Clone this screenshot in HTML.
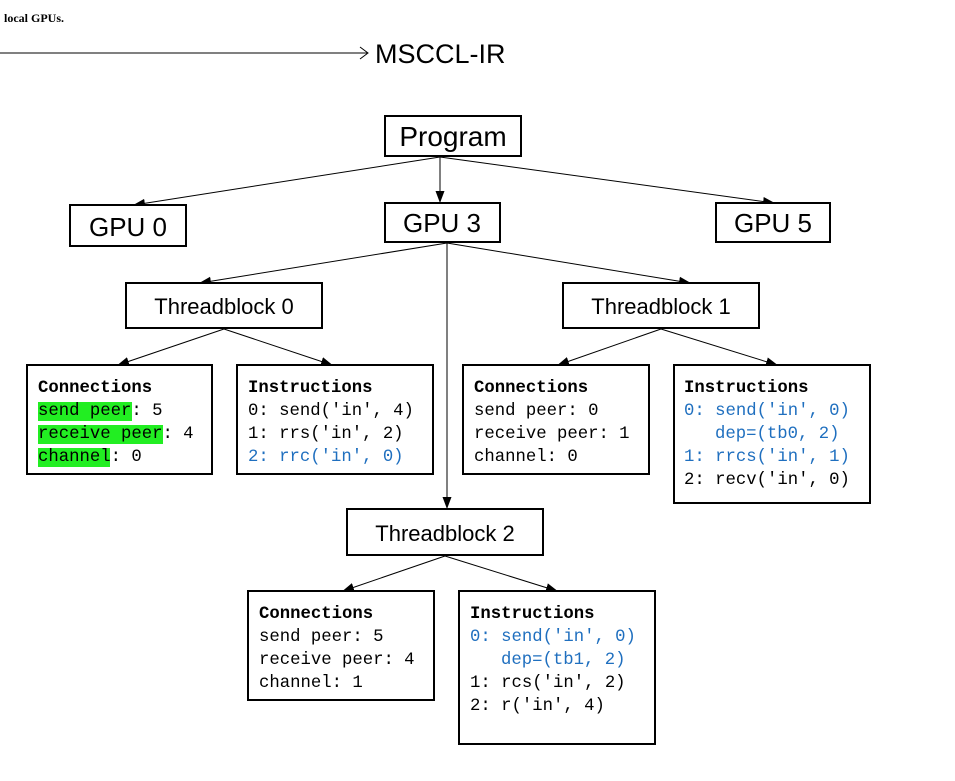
<!DOCTYPE html>
<html><head><meta charset="utf-8"><style>
body{margin:0;background:#fff;}
svg{display:block}
.m{font-family:"Liberation Mono",monospace;font-size:17.3px;white-space:pre;}
.b{font-weight:bold}
.s{font-family:"Liberation Sans",sans-serif;}
.bl{fill:#1f6fbf}
</style></head><body>
<svg width="955" height="781" xmlns="http://www.w3.org/2000/svg" xml:space="preserve">
<defs><marker id="a" markerWidth="12" markerHeight="12" refX="11" refY="6" orient="auto" markerUnits="userSpaceOnUse"><path d="M0,1.5 L12,6 L0,10.5 Z" fill="#000"/></marker></defs>
<text x="4" y="22" font-family="Liberation Serif,serif" font-weight="bold" font-size="12">local GPUs.</text>
<line x1="0" y1="53" x2="367" y2="53" stroke="#000" stroke-width="1"/>
<path d="M360,47 L368,53 L360,59" fill="none" stroke="#000" stroke-width="1"/>
<text x="375" y="63" class="s" font-size="27">MSCCL-IR</text>
<g stroke="#000" stroke-width="1" fill="none" marker-end="url(#a)">
<line x1="440" y1="157" x2="134" y2="205"/>
<line x1="440" y1="157" x2="440" y2="202"/>
<line x1="440" y1="157" x2="774" y2="203"/>
<line x1="447" y1="243" x2="200" y2="283"/>
<line x1="447" y1="243" x2="690" y2="283"/>
<line x1="447" y1="243" x2="447" y2="508"/>
<line x1="224" y1="329" x2="118" y2="365"/>
<line x1="224" y1="329" x2="332" y2="365"/>
<line x1="661" y1="329" x2="558" y2="365"/>
<line x1="661" y1="329" x2="777" y2="365"/>
<line x1="445" y1="556" x2="343" y2="591"/>
<line x1="445" y1="556" x2="557" y2="591"/>
</g>
<g fill="#fff" stroke="#000" stroke-width="2">
<rect x="385" y="116" width="136" height="40"/>
<rect x="70" y="205" width="116" height="41"/>
<rect x="385" y="203" width="115" height="39"/>
<rect x="716" y="203" width="114" height="39"/>
<rect x="126" y="283" width="196" height="45"/>
<rect x="563" y="283" width="196" height="45"/>
<rect x="347" y="509" width="196" height="46"/>
<rect x="27" y="365" width="185" height="109"/>
<rect x="237" y="365" width="196" height="109"/>
<rect x="463" y="365" width="186" height="109"/>
<rect x="674" y="365" width="196" height="138"/>
<rect x="248" y="591" width="186" height="109"/>
<rect x="459" y="591" width="196" height="153"/>
</g>
<g class="s" text-anchor="middle">
<text x="453" y="146" font-size="28">Program</text>
<text x="128" y="236" font-size="26">GPU 0</text>
<text x="442" y="232" font-size="26">GPU 3</text>
<text x="773" y="232" font-size="26">GPU 5</text>
<text x="224" y="314" font-size="22">Threadblock 0</text>
<text x="661" y="314" font-size="22">Threadblock 1</text>
<text x="445" y="541" font-size="22">Threadblock 2</text>
</g>
<rect x="38" y="402" width="94" height="19" fill="#22ee22"/>
<rect x="38" y="425" width="125" height="19" fill="#22ee22"/>
<rect x="38" y="448" width="72" height="19" fill="#22ee22"/>
<g class="m">
<text x="38" y="392" class="b">Connections</text>
<text x="38" y="415">send peer: 5</text>
<text x="38" y="438">receive peer: 4</text>
<text x="38" y="461">channel: 0</text>
<text x="248" y="392" class="b">Instructions</text>
<text x="248" y="415">0: send('in', 4)</text>
<text x="248" y="438">1: rrs('in', 2)</text>
<text x="248" y="461" class="bl">2: rrc('in', 0)</text>
<text x="474" y="392" class="b">Connections</text>
<text x="474" y="415">send peer: 0</text>
<text x="474" y="438">receive peer: 1</text>
<text x="474" y="461">channel: 0</text>
<text x="684" y="392" class="b">Instructions</text>
<text x="684" y="415" class="bl">0: send('in', 0)</text>
<text x="715" y="438" class="bl">dep=(tb0, 2)</text>
<text x="684" y="461" class="bl">1: rrcs('in', 1)</text>
<text x="684" y="484">2: recv('in', 0)</text>
<text x="259" y="618" class="b">Connections</text>
<text x="259" y="641">send peer: 5</text>
<text x="259" y="664">receive peer: 4</text>
<text x="259" y="687">channel: 1</text>
<text x="470" y="618" class="b">Instructions</text>
<text x="470" y="641" class="bl">0: send('in', 0)</text>
<text x="501" y="664" class="bl">dep=(tb1, 2)</text>
<text x="470" y="687">1: rcs('in', 2)</text>
<text x="470" y="710">2: r('in', 4)</text>
</g>
</svg>
</body></html>
